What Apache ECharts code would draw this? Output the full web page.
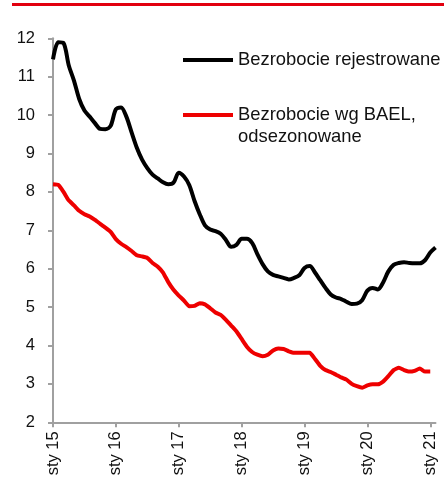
<!DOCTYPE html>
<html>
<head>
<meta charset="utf-8">
<script src="https://cdn.jsdelivr.net/npm/echarts@6/dist/echarts.min.js"></script>
<style>html,body{margin:0;padding:0;background:#fff}#c{width:444px;height:481px}</style>
</head>
<body>
<div id="c"></div>
<script>
// Tick labels / categories
var monthNames = ['sty','lut','mar','kwi','maj','cze','lip','sie','wrz','paź','lis','gru'];
var years = ['15','16','17','18','19','20','21'];
var nMonths = 74;

// Series names
var nameRegistered = 'Bezrobocie rejestrowane';
var nameBael = 'Bezrobocie wg BAEL,\nodsezonowane';

// Series values (monthly, %)
var registered = [11.45,11.9,11.88,11.3,10.9,10.42,10.12,9.96,9.79,9.64,9.63,9.72,
  10.15,10.2,9.96,9.55,9.15,8.84,8.62,8.45,8.35,8.25,8.2,8.24,
  8.5,8.4,8.18,7.77,7.42,7.13,7.02,6.98,6.91,6.75,6.57,6.62,
  6.78,6.78,6.67,6.38,6.12,5.93,5.84,5.8,5.76,5.72,5.76,5.83,
  6.02,6.07,5.9,5.7,5.5,5.33,5.25,5.21,5.14,5.08,5.09,5.18,
  5.43,5.5,5.46,5.64,5.93,6.1,6.15,6.17,6.15,6.14,6.14,6.22,
  6.42,6.55];
var bael = [8.2,8.18,8.0,7.78,7.65,7.51,7.42,7.36,7.27,7.17,7.07,6.96,
  6.77,6.65,6.56,6.46,6.35,6.32,6.28,6.15,6.05,5.9,5.65,5.45,
  5.3,5.17,5.02,5.03,5.1,5.07,4.97,4.86,4.8,4.67,4.52,4.37,
  4.17,3.97,3.83,3.76,3.72,3.76,3.87,3.92,3.91,3.85,3.81,3.81,
  3.81,3.81,3.65,3.47,3.36,3.31,3.24,3.17,3.11,3.0,2.94,2.9,
  2.96,2.99,2.99,3.06,3.2,3.36,3.42,3.36,3.32,3.34,3.4,3.32,
  3.32];

var categories = [];
for (var k = 0; k < nMonths; k++) {
  categories.push(monthNames[k % 12] + ' ' + years[Math.floor(k / 12)]);
}

var FONT = '"Liberation Sans", Arial, sans-serif';
var chart = echarts.init(document.getElementById('c'), null, {renderer: 'canvas'});
chart.setOption({
  animation: false,
  backgroundColor: '#fff',
  grid: {left: 53, right: 8.5, top: 38.3, bottom: 58.7, containLabel: false},
  graphic: [{
    type: 'rect', shape: {x: 12, y: 3, width: 432, height: 3},
    style: {fill: '#e2000f'}, silent: true
  }],
  legend: [{
    data: [{name: nameRegistered, icon: 'rect'}],
    left: 183, top: 50, padding: 0, itemWidth: 50, itemHeight: 4,
    selectedMode: false,
    textStyle: {fontFamily: FONT, fontSize: 18.4, color: '#111', lineHeight: 20}
  }, {
    data: [{name: nameBael, icon: 'rect'}],
    left: 183, top: 82, padding: 0, itemWidth: 50, itemHeight: 4,
    selectedMode: false,
    formatter: function (name) { return '\u00a0\n' + name; },
    textStyle: {fontFamily: FONT, fontSize: 18.4, color: '#111', lineHeight: 22}
  }],
  xAxis: {
    type: 'category', data: categories, boundaryGap: false,
    axisLine: {lineStyle: {color: '#a0a0a0', width: 2}},
    axisTick: {show: true, interval: 11, length: 5, lineStyle: {color: '#a0a0a0', width: 2}},
    axisLabel: {interval: 11, rotate: 90, margin: 9, fontFamily: FONT, fontSize: 16.5, color: '#111'},
    splitLine: {show: false}
  },
  yAxis: {
    type: 'value', min: 2, max: 12, interval: 1,
    axisLine: {show: true, lineStyle: {color: '#a0a0a0', width: 2}},
    axisTick: {show: true, length: 5, lineStyle: {color: '#a0a0a0', width: 2}},
    axisLabel: {margin: 18, fontFamily: FONT, fontSize: 16.5, color: '#111'},
    splitLine: {show: false}
  },
  series: [{
    name: nameBael, type: 'line', data: bael, smooth: 0.15,
    showSymbol: false, color: '#ee0000',
    lineStyle: {color: '#ee0000', width: 4}
  }, {
    name: nameRegistered, type: 'line', data: registered, smooth: 0.3,
    showSymbol: false, color: '#000',
    lineStyle: {color: '#000', width: 4}
  }]
});
</script>
</body>
</html>
